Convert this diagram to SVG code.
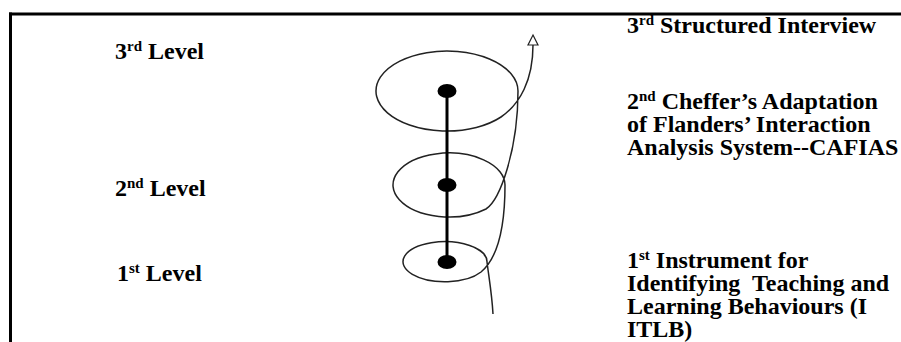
<svg xmlns="http://www.w3.org/2000/svg" width="901" height="342" viewBox="0 0 901 342">
<style>
.t{font-family:"Liberation Serif","Times New Roman",serif;font-weight:bold;font-size:24px;fill:#000;white-space:pre}
.sup{font-size:15px}
.frame{stroke:#000;stroke-width:3;fill:none}
.spiral{stroke:#222;stroke-width:1.5;fill:none}
.dot{fill:#000}
</style>
<defs>
<marker id="arrowUp" markerUnits="userSpaceOnUse" markerWidth="16" markerHeight="16" refX="5" refY="0" orient="0" viewBox="-3 -12 16 16">
<path d="M5 -10 L10 0 L0 0 Z" fill="#fff" stroke="#222" stroke-width="1.2"/>
</marker>
</defs>
<g id="frame">
<line class="frame" x1="9" y1="14" x2="901" y2="14"/>
<line class="frame" x1="10.5" y1="12.5" x2="10.5" y2="342"/>
</g>
<g id="connectors">
<path id="spiral" class="spiral" d="M493 314 C492 295 489 278 487 262 A42 20 0 1 0 481 272 C493 262 505 240 505 185 A56 32 0 1 0 486 209 C500 200 518 150 518 91 A71 40 0 1 0 501 117 C520 104 533 80 533 45" marker-end="url(#arrowUp)"/>
<line id="axis" x1="447" y1="91" x2="447" y2="262" stroke="#000" stroke-width="3"/>
</g>
<g id="node-dot3"><ellipse class="dot" cx="447" cy="91" rx="9.5" ry="7"/></g>
<g id="node-dot2"><ellipse class="dot" cx="447" cy="185" rx="9.5" ry="7"/></g>
<g id="node-dot1"><ellipse class="dot" cx="447" cy="262" rx="9.5" ry="7"/></g>
<g id="label-level3"><text class="t" x="115" y="59">3<tspan class="sup" dy="-8">rd</tspan><tspan dy="8"> Level</tspan></text></g>
<g id="label-level2"><text class="t" x="115" y="196">2<tspan class="sup" dy="-8">nd</tspan><tspan dy="8"> Level</tspan></text></g>
<g id="label-level1"><text class="t" x="117" y="281">1<tspan class="sup" dy="-8">st</tspan><tspan dy="8"> Level</tspan></text></g>
<g id="label-structured"><text class="t" x="627" y="33">3<tspan class="sup" dy="-8">rd</tspan><tspan dy="8"> Structured Interview</tspan></text></g>
<g id="label-cafias"><text class="t"><tspan x="627" y="109">2</tspan><tspan class="sup" dy="-8">nd</tspan><tspan dy="8"> Cheffer’s Adaptation</tspan><tspan x="627" y="132">of Flanders’ Interaction</tspan><tspan x="627" y="155">Analysis System--CAFIAS</tspan></text></g>
<g id="label-itlb"><text class="t"><tspan x="627" y="268">1</tspan><tspan class="sup" dy="-8">st</tspan><tspan dy="8"> Instrument for</tspan><tspan x="627" y="291">Identifying  Teaching and</tspan><tspan x="627" y="314">Learning Behaviours (I</tspan><tspan x="627" y="337">ITLB)</tspan></text></g>
</svg>
